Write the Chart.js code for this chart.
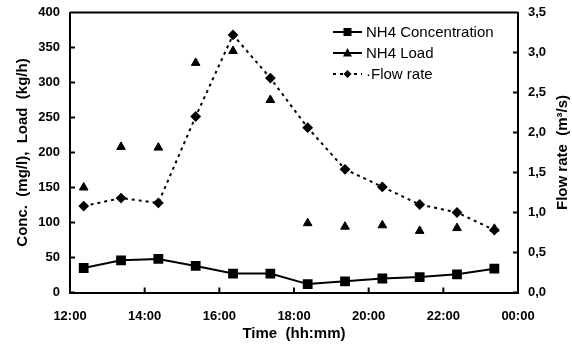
<!DOCTYPE html>
<html>
<head>
<meta charset="utf-8">
<script src="https://cdn.jsdelivr.net/npm/chart.js@4/dist/chart.umd.min.js"></script>
<style>
  body { margin: 0; background: #fff; }
  #wrap { position: relative; width: 572px; height: 347px; }
  #legend { position: absolute; left: 333px; top: 21px; font: 15px "Liberation Sans", Arial, sans-serif; color: #000; }
  #legend div { height: 21px; display: flex; align-items: center; }
  #legend svg { margin-right: 4px; }
</style>
</head>
<body>
<div id="wrap">
  <canvas id="chart" width="572" height="347"></canvas>
  <div id="legend">
    <div><svg width="29" height="12"><line x1="0" y1="6" x2="29" y2="6" stroke="#000" stroke-width="2"/><rect x="10.5" y="2" width="8" height="8" fill="#000"/></svg>NH4 Concentration</div>
    <div><svg width="29" height="12"><line x1="0" y1="6" x2="29" y2="6" stroke="#000" stroke-width="2"/><polygon points="14.5,1 19,9.5 10,9.5" fill="#000"/></svg>NH4 Load</div>
    <div><svg width="29" height="12"><line x1="0" y1="6" x2="29" y2="6" stroke="#000" stroke-width="2" stroke-dasharray="3,4"/><polygon points="14.5,2 18.5,6 14.5,10 10.5,6" fill="#000"/></svg>&middot;Flow rate</div>
  </div>
</div>
<script>
// sampling times (hh:mm), one sample per hour
const times = ["12:22", "13:22", "14:22", "15:22", "16:22", "17:22", "18:22", "19:22", "20:22", "21:22", "22:22", "23:22"];
// NH4 concentration (mg/l)
const concentration = [35, 46, 48, 38, 27, 27, 12, 16, 20, 22, 26, 34];
// NH4 load (kg/h)
const load = [150, 208, 207, 328, 345, 275, 99, 94, 96, 88, 92, 91];
// flow rate (m3/s)
const flowRate = [1.08, 1.18, 1.12, 2.2, 3.22, 2.68, 2.06, 1.54, 1.32, 1.1, 1.0, 0.78];

const xTickLabels = ["12:00", "14:00", "16:00", "18:00", "20:00", "22:00", "00:00"];
const flowTitle = "Flow rate  (m³/s)";

function toHours(t) {
    const p = t.split(":");
    return Number(p[0]) + Number(p[1]) / 60;
}
function pts(values) {
    return values.map((v, i) => ({ x: toHours(times[i]), y: v }));
}

const tickFont = { family: "Liberation Sans", size: 13, weight: "bold" };
const titleFont = { family: "Liberation Sans", size: 15, weight: "bold" };

// inward tick marks, top frame line and the right axis title (reads bottom-up)
const frame = {
    id: "frame",
    afterDraw(chart) {
        const ctx = chart.ctx;
        const a = chart.chartArea;
        ctx.save();
        ctx.strokeStyle = "#000";
        ctx.lineWidth = 2;
        ctx.beginPath();
        ctx.moveTo(a.left, a.top);
        ctx.lineTo(a.right, a.top);
        chart.scales.x.ticks.forEach(t => {
            const px = chart.scales.x.getPixelForValue(t.value);
            ctx.moveTo(px, a.bottom);
            ctx.lineTo(px, a.bottom - 5);
        });
        chart.scales.y.ticks.forEach(t => {
            const py = chart.scales.y.getPixelForValue(t.value);
            ctx.moveTo(a.left, py);
            ctx.lineTo(a.left + 5, py);
        });
        chart.scales.y1.ticks.forEach(t => {
            const py = chart.scales.y1.getPixelForValue(t.value);
            ctx.moveTo(a.right, py);
            ctx.lineTo(a.right - 5, py);
        });
        ctx.stroke();

        ctx.translate(chart.width - 9, (a.top + a.bottom) / 2);
        ctx.rotate(-Math.PI / 2);
        ctx.fillStyle = "#000";
        ctx.font = "bold 15px 'Liberation Sans'";
        ctx.textAlign = "center";
        ctx.textBaseline = "middle";
        ctx.fillText(flowTitle, 0, 0);
        ctx.restore();
    }
};

function fitVertical(width) {
    return s => {
        s.width = width;
        s.paddingTop = 0;
        s.paddingBottom = 0;
    };
}

const ctx = document.getElementById("chart").getContext("2d");
const chart = new Chart(ctx, {
    type: "line",
    data: {
        datasets: [
            {
                label: "NH4 Concentration",
                data: pts(concentration),
                yAxisID: "y",
                borderColor: "#000",
                backgroundColor: "#000",
                borderWidth: 2,
                pointStyle: "rect",
                pointRadius: 5.5,
                tension: 0,
            },
            {
                label: "NH4 Load",
                data: pts(load),
                yAxisID: "y",
                showLine: false,
                borderColor: "#000",
                backgroundColor: "#000",
                pointStyle: "triangle",
                pointRadius: 5,
            },
            {
                label: "Flow rate",
                data: pts(flowRate),
                yAxisID: "y1",
                borderColor: "#000",
                backgroundColor: "#000",
                borderWidth: 2,
                borderDash: [3, 4],
                pointStyle: "rectRot",
                pointRadius: 4,
                tension: 0,
            },
        ],
    },
    options: {
        responsive: false,
        animation: false,
        layout: { padding: { top: 12.5, left: 0, right: 0, bottom: 0 } },
        plugins: { legend: { display: false }, tooltip: { enabled: false } },
        scales: {
            x: {
                type: "linear",
                min: 12,
                max: 24,
                afterFit: s => { s.height = 54.5; },
                afterBuildTicks: s => { s.ticks = xTickLabels.map((l, i) => ({ value: 12 + i * 2 })); },
                ticks: {
                    color: "#000",
                    font: tickFont,
                    padding: 16,
                    maxRotation: 0,
                    callback: (v, i) => xTickLabels[i],
                },
                grid: { display: false, drawTicks: false },
                border: { color: "#000", width: 2 },
                title: { display: true, text: "Time  (hh:mm)", color: "#000", font: titleFont, padding: { top: 0, bottom: 4 } },
            },
            y: {
                position: "left",
                min: 0,
                max: 400,
                afterFit: fitVertical(70),
                ticks: { stepSize: 50, color: "#000", font: tickFont, padding: 10 },
                grid: { display: false, drawTicks: false },
                border: { color: "#000", width: 2 },
                title: { display: true, text: "Conc.  (mg/l),  Load  (kg/h)", color: "#000", font: titleFont, padding: { top: 14, bottom: 0 } },
            },
            y1: {
                position: "right",
                min: 0,
                max: 3.5,
                afterFit: fitVertical(54),
                ticks: {
                    stepSize: 0.5,
                    color: "#000",
                    font: tickFont,
                    padding: 10,
                    callback: v => v.toFixed(1).replace(".", ","),
                },
                grid: { display: false, drawTicks: false },
                border: { color: "#000", width: 2 },
            },
        },
    },
    plugins: [frame],
});
</script>
</body>
</html>
